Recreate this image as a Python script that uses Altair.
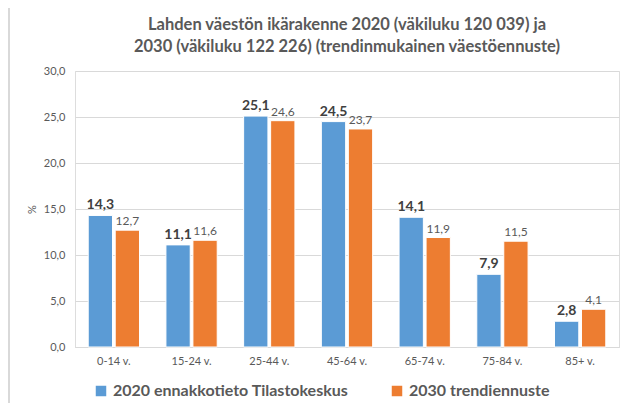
import altair as alt
import pandas as pd

categories = ["0-14 v.", "15-24 v.", "25-44 v.", "45-64 v.", "65-74 v.", "75-84 v.", "85+ v."]
series = ["2020 ennakkotieto Tilastokeskus", "2030 trendiennuste"]
v2020 = [14.3, 11.1, 25.1, 24.5, 14.1, 7.9, 2.8]
v2030 = [12.7, 11.6, 24.6, 23.7, 11.9, 11.5, 4.1]
colors = ["#5B9BD5", "#ED7D31"]

rows = []
for c, a, b in zip(categories, v2020, v2030):
    rows.append({"cat": c, "series": series[0], "v": a})
    rows.append({"cat": c, "series": series[1], "v": b})
df = pd.DataFrame(rows)

FONT = "Lato"

x = alt.X("cat:N", sort=categories, title=None,
          scale=alt.Scale(paddingInner=0.34, paddingOuter=0.17),
          axis=alt.Axis(labelAngle=0, ticks=False, domain=True, domainColor="#d9d9d9",
                        labelFontSize=11, labelColor="#595959", labelPadding=8, labelFont=FONT))
xo = alt.XOffset("series:N", sort=series, scale=alt.Scale(paddingInner=0.1))
y = alt.Y("v:Q", title="%",
          scale=alt.Scale(domain=[0, 30], nice=False),
          axis=alt.Axis(values=[0, 5, 10, 15, 20, 25, 30],
                        labelExpr="replace(format(datum.value, '.1f'), '.', ',')",
                        ticks=False, domain=False, gridColor="#d9d9d9",
                        labelFontSize=11, labelColor="#595959", labelPadding=10, labelFont=FONT,
                        titleFontSize=11, titleColor="#595959", titleFontWeight="normal",
                        titlePadding=6, titleFont=FONT))

base = alt.Chart(df).transform_calculate(
    label="replace(format(datum.v, '.1f'), '.', ',')"
).encode(x=x, xOffset=xo, y=y)

bars = base.mark_bar(stroke="white", strokeWidth=1).encode(
    color=alt.Color("series:N", sort=series, scale=alt.Scale(domain=series, range=colors),
                    legend=alt.Legend(title=None, orient="none", direction="horizontal",
                                      legendX=18, legendY=312, symbolType="square",
                                      symbolSize=110, symbolStrokeWidth=0,
                                      labelFontSize=16, labelFontWeight="bold",
                                      labelColor="#595959", labelFont=FONT,
                                      columnPadding=40, labelLimit=400))
)

t1 = base.transform_filter(alt.datum.series == series[0]).mark_text(
    dy=-10, fontSize=14, fontWeight="bold", color="#404040", font=FONT
).encode(text="label:N")
t2 = base.transform_filter(alt.datum.series == series[1]).mark_text(
    dy=-9, fontSize=12, color="#595959", font=FONT
).encode(text="label:N")

frame_df = pd.DataFrame({"k": [0]})
left_edge = alt.Chart(frame_df).mark_rule(color="#d9d9d9", strokeWidth=2).encode(
    x=alt.value(-66), y=alt.value(-63), y2=alt.value(332))

chart = alt.layer(bars, t1, t2, left_edge).properties(
    width=544, height=276,
    title=alt.TitleParams(
        ["Lahden väestön ikärakenne 2020 (väkiluku 120 039) ja",
         "2030 (väkiluku 122 226) (trendinmukainen väestöennuste)"],
        anchor="middle", fontSize=16.5, fontWeight="bold", color="#595959", font=FONT,
        lineHeight=22, offset=13, dy=61),
    autosize=alt.AutoSizeParams(type="none"),
    padding={"left": 67, "top": 63, "right": 4, "bottom": 56},
).configure_view(stroke=None).configure(background="white")

chart.save("out.html", embed_options={"renderer": "svg", "actions": False})
